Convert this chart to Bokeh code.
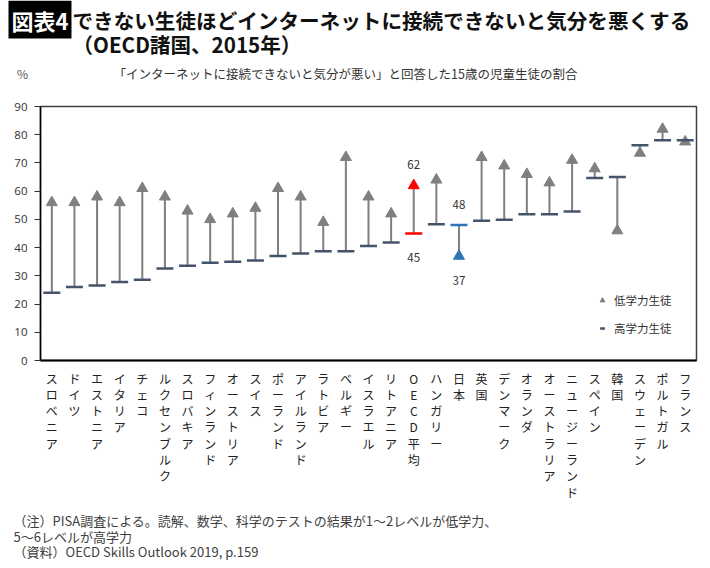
from bokeh.plotting import figure
from bokeh.layouts import column
from bokeh.models import ColumnDataSource, Label, Legend, LegendItem, FixedTicker, Range1d, FactorRange
from bokeh.core.properties import value
from bokeh.embed import file_html
from bokeh.resources import INLINE

# ---- data ----
countries = ["スロベニア", "ドイツ", "エストニア", "イタリア", "チェコ", "ルクセンブルク",
             "スロバキア", "フィンランド", "オーストリア", "スイス", "ポーランド", "アイルランド",
             "ラトビア", "ベルギー", "イスラエル", "リトアニア", "OECD平均", "ハンガリー", "日本",
             "英国", "デンマーク", "オランダ", "オーストラリア", "ニュージーランド", "スペイン",
             "韓国", "スウェーデン", "ポルトガル", "フランス"]
low_achievers = [56, 56, 58, 56, 61, 58, 53, 50, 52, 54, 61, 58, 49, 72, 58, 52, 62, 64, 37,
                 72, 69, 66, 63, 71, 68, 46, 73.5, 82, 77.5]
high_achievers = [24, 26, 26.6, 27.8, 28.6, 32.6, 33.6, 34.6, 35, 35.4, 37, 37.9, 38.7, 38.7,
                  40.6, 41.8, 45, 48.3, 48, 49.5, 49.9, 51.8, 51.8, 52.8, 64.7, 65, 76.3, 78, 78]
y_ticks = [0, 10, 20, 30, 40, 50, 60, 70, 80, 90]
highlight = {"OECD平均": "#FF0000", "日本": "#2E75B6"}
series_names = ["低学力生徒", "高学力生徒"]

JP = "Noto Sans CJK JP"
GRAY = "#7F7F7F"
DARK = "#44546A"
W = 702


def blank(h):
    f = figure(width=W, height=h, x_range=Range1d(0, W), y_range=Range1d(h, 0),
               x_axis_type=None, y_axis_type=None, output_backend="svg",
               toolbar_location=None, min_border=0, frame_align=False)
    f.xgrid.visible = False
    f.ygrid.visible = False
    f.outline_line_color = None
    return f


def lab(f, x, y, text, **kw):
    f.add_layout(Label(x=x, y=y, text=text, text_font=JP, text_baseline="middle", **kw))


# ---- header ----
top = blank(90)
lab(top, 8, 19, "図表4", text_font_size="22px", text_font_style="bold", text_color="white",
    background_fill_color="black", padding=3)
lab(top, 72, 19, "できない生徒ほどインターネットに接続できないと気分を悪くする",
    text_font_size="20.6px", text_font_style="bold", text_color="#111111")
lab(top, 72, 43, "（OECD諸国、2015年）", text_font_size="20.6px", text_font_style="bold",
    text_color="#111111")
lab(top, 345, 73, "「インターネットに接続できないと気分が悪い」と回答した15歳の児童生徒の割合",
    text_font_size="12.5px", text_color="#333333", text_align="center")
lab(top, 22, 73, "%", text_font_size="12px", text_color="#595959", text_align="center")

# ---- main chart ----
factors = ["\n".join(c) for c in countries]
low_col = [highlight.get(c, GRAY) for c in countries]
high_col = [highlight.get(c, DARK) for c in countries]

src = ColumnDataSource(dict(f=factors, low=low_achievers, high=high_achievers,
                            lowc=low_col, highc=high_col))

p = figure(width=W, height=418, x_range=FactorRange(*factors), y_range=Range1d(0, 90),
           output_backend="svg", toolbar_location=None, frame_align=False,
           min_border_left=40, min_border_right=6, min_border_top=16, min_border_bottom=148)

p.segment(x0="f", y0="high", x1="f", y1="low", source=src, line_color=GRAY, line_width=2)
tri = p.scatter(x="f", y="low", marker="triangle", size=11, fill_color="lowc",
                line_color="lowc", source=src)
dash = p.scatter(x="f", y="high", marker="dash", size=17, line_color="highc",
                 line_width=2.5, source=src)

lx, ly, lt, lo = [], [], [], []
for c in highlight:
    i = countries.index(c)
    a, b = low_achievers[i], high_achievers[i]
    hi_v, lo_v = max(a, b), min(a, b)
    lx += [factors[i], factors[i]]
    ly += [hi_v, lo_v]
    lt += [f"{hi_v:.0f}", f"{lo_v:.0f}"]
    lo += [-21, 24]
p.text(x=lx, y=ly, text=lt, y_offset=lo, text_align="center", text_baseline="middle",
       text_font_size="11.5px", text_color="#333333", text_font=value(JP))

p.xgrid.visible = False
p.ygrid.visible = False
p.outline_line_color = "#404040"
p.outline_line_width = 1.5

xa = p.xaxis[0]
xa.axis_line_color = "black"
xa.axis_line_width = 2
xa.major_tick_line_color = None
xa.minor_tick_line_color = None
xa.major_label_text_font = JP
xa.major_label_text_font_size = "12px"
xa.major_label_text_line_height = 0.96
xa.major_label_text_color = "#222222"
xa.major_label_standoff = 3

ya = p.yaxis[0]
ya.ticker = FixedTicker(ticks=y_ticks)
ya.axis_line_color = "black"
ya.axis_line_width = 1.5
ya.major_tick_out = 6
ya.major_tick_in = 0
ya.major_tick_line_color = "#333333"
ya.minor_tick_line_color = None
ya.major_label_text_font = "Open Sans"
ya.major_label_text_font_size = "11.5px"
ya.major_label_text_color = "#333333"
ya.major_label_standoff = 7

legend = Legend(items=[LegendItem(label=series_names[0], renderers=[tri], index=0),
                       LegendItem(label=series_names[1], renderers=[dash], index=0)],
                location=(556, 22), padding=0, spacing=8, glyph_width=12, glyph_height=20,
                label_standoff=6, border_line_color=None, background_fill_alpha=0,
                label_text_font=JP, label_text_font_size="11.5px", label_text_color="#333333")
p.add_layout(legend)

# ---- footer ----
bot = blank(52)
lab(bot, 13, 12, "（注）PISA調査による。読解、数学、科学のテストの結果が1〜2レベルが低学力、",
    text_font_size="13px", text_color="#404040")
lab(bot, 13, 28, "5〜6レベルが高学力", text_font_size="13px", text_color="#404040")
lab(bot, 13, 43, "（資料）OECD Skills Outlook 2019, p.159", text_font_size="13px",
    text_color="#404040")

layout = column(top, p, bot, spacing=0)
open("out.html", "w").write(file_html(layout, INLINE))
